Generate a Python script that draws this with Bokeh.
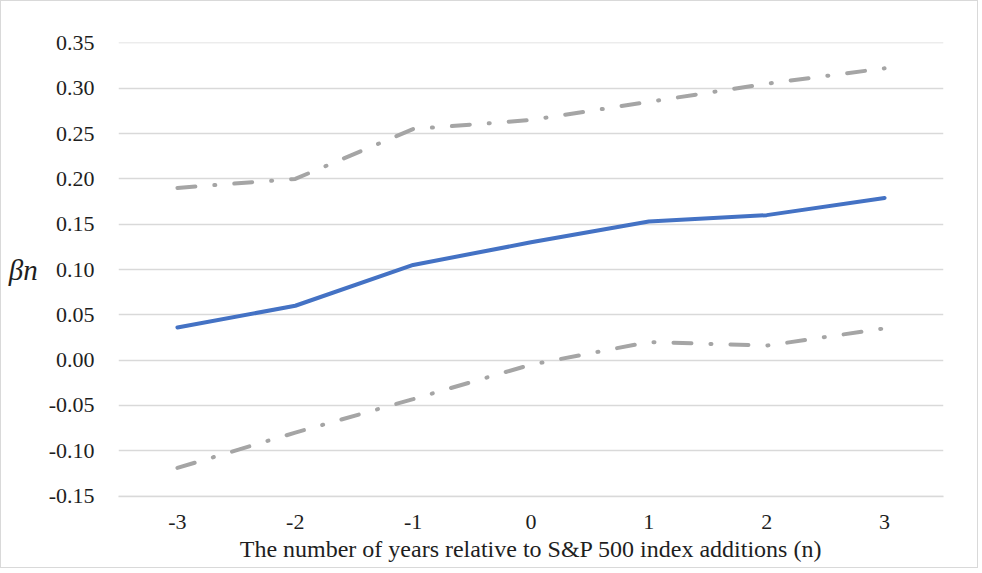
from bokeh.plotting import figure
from bokeh.models import ColumnDataSource, FixedTicker, Range1d, CustomJSTickFormatter
from bokeh.embed import file_html
from bokeh.resources import INLINE

# ---- data ----
years = [-3, -2, -1, 0, 1, 2, 3]
beta = [0.036, 0.060, 0.105, 0.130, 0.153, 0.160, 0.179]
upper = [0.190, 0.200, 0.255, 0.265, 0.285, 0.305, 0.322]
lower = [-0.119, -0.080, -0.043, -0.005, 0.020, 0.016, 0.035]
y_ticks = [-0.15, -0.10, -0.05, 0.00, 0.05, 0.10, 0.15, 0.20, 0.25, 0.30, 0.35]
x_label = "The number of years relative to S&P 500 index additions (n)"
y_label = "\u03b2n"

src = ColumnDataSource(dict(x=years, beta=beta, upper=upper, lower=lower))

FONT = "Liberation Serif"
TXT = "#1e1e1e"

p = figure(width=978, height=568, output_backend="svg", toolbar_location=None,
           x_range=Range1d(-3.5, 3.5), y_range=Range1d(-0.1505, 0.3505),
           min_border_left=117, min_border_right=36, min_border_top=41,
           min_border_bottom=73)
p.styles = {"border": "1px solid #d9d9d9"}
p.outline_line_color = None
p.background_fill_color = "white"
p.border_fill_color = "white"

# grid
p.xgrid.visible = False
p.ygrid.ticker = FixedTicker(ticks=y_ticks)
p.ygrid.grid_line_color = "#d9d9d9"
p.ygrid.grid_line_width = 1.5

# y axis
p.yaxis.ticker = FixedTicker(ticks=y_ticks)
p.yaxis.formatter = CustomJSTickFormatter(code="return tick.toFixed(2);")
p.yaxis.axis_line_color = None
p.yaxis.major_tick_line_color = None
p.yaxis.minor_tick_line_color = None
p.yaxis.major_label_standoff = 18
p.yaxis.major_label_text_font = FONT
p.yaxis.major_label_text_font_size = "22px"
p.yaxis.major_label_text_color = TXT
p.yaxis.axis_label = y_label
p.yaxis.axis_label_orientation = "horizontal"
p.yaxis.axis_label_text_font = FONT
p.yaxis.axis_label_text_font_style = "italic"
p.yaxis.axis_label_text_font_size = "29px"
p.yaxis.axis_label_text_color = TXT
p.yaxis.axis_label_standoff = 8

# x axis
p.xaxis.ticker = FixedTicker(ticks=years)
p.xaxis.formatter = CustomJSTickFormatter(code="return tick.toFixed(0);")
p.xaxis.axis_line_color = "#d9d9d9"
p.xaxis.axis_line_width = 1.5
p.xaxis.major_tick_line_color = None
p.xaxis.minor_tick_line_color = None
p.xaxis.major_label_standoff = 12
p.xaxis.major_label_text_font = FONT
p.xaxis.major_label_text_font_size = "22px"
p.xaxis.major_label_text_color = TXT
p.xaxis.axis_label = x_label
p.xaxis.axis_label_text_font = FONT
p.xaxis.axis_label_text_font_size = "24px"
p.xaxis.axis_label_text_font_style = "normal"
p.xaxis.axis_label_text_color = TXT
p.xaxis.axis_label_standoff = 4

# lines
p.line("x", "upper", source=src, line_color="#a5a5a5", line_width=4,
       line_dash="18 19 1 19", line_cap="round")
p.line("x", "lower", source=src, line_color="#a5a5a5", line_width=4,
       line_dash="18 19 1 19", line_cap="round")
p.line("x", "beta", source=src, line_color="#4472c4", line_width=4,
       line_cap="round", line_join="round")

open("out.html", "w").write(file_html(p, INLINE))
